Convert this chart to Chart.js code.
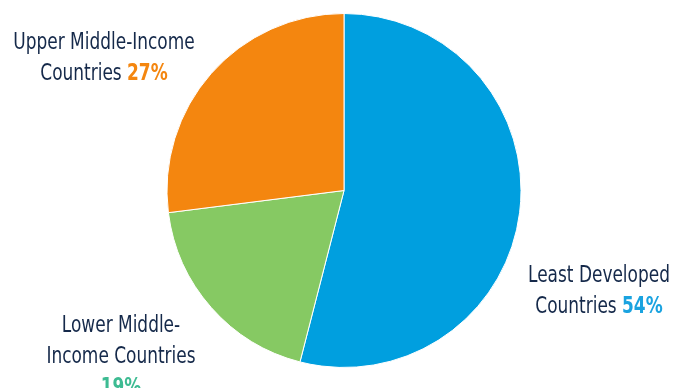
<!DOCTYPE html>
<html>
<head>
<meta charset="utf-8">
<script src="https://cdn.jsdelivr.net/npm/chart.js@4"></script>
<style>
  html, body { margin: 0; padding: 0; background: #ffffff; }
  #wrap { width: 673px; height: 388px; }
</style>
</head>
<body>
<div id="wrap"><canvas id="chartIncome"></canvas></div>
<script>
// 범주 / 값
const categories = ['Least Developed Countries', 'Lower Middle-Income Countries', 'Upper Middle-Income Countries'];
const shares = [54, 19, 27];
const sliceColors = ['#009fdf', '#86c963', '#f4860f'];
const pctColors = ['#1aa3e0', '#3dbb92', '#f4860f'];

// 라벨 줄바꿈 (마지막 줄 뒤에 퍼센트)
const labelLines = [
  ['Least Developed', 'Countries'],
  ['Lower Middle-', 'Income Countries', ''],
  ['Upper Middle-Income', 'Countries']
];
// 라벨 위치 (가운데 x, 첫 줄 baseline y)
const labelPos = [
  { x: 599, y: 282 },
  { x: 121, y: 332 },
  { x: 104, y: 49 }
];

const TEXT = '#15294a';
const FONT = '"DejaVu Sans Condensed", "Noto Sans", sans-serif';
const SIZE = 23;
const SX = 0.82;   // 가로 압축
const LINE_H = 31;

const pieLabels = {
  id: 'pieLabels',
  afterDraw(chart) {
    const ctx = chart.ctx;
    ctx.save();
    ctx.textBaseline = 'alphabetic';
    ctx.textAlign = 'left';
    categories.forEach((cat, i) => {
      const lines = labelLines[i];
      const pos = labelPos[i];
      const pct = shares[i] + '%';
      lines.forEach((line, li) => {
        const y = pos.y + li * LINE_H;
        const last = li === lines.length - 1;
        const txt = last && line !== '' ? line + ' ' : line;
        ctx.font = SIZE + 'px ' + FONT;
        const w1 = ctx.measureText(txt).width;
        let w2 = 0;
        if (last) {
          ctx.font = 'bold ' + SIZE + 'px ' + FONT;
          w2 = ctx.measureText(pct).width;
        }
        const x = pos.x - (w1 + w2) * SX / 2;
        ctx.save();
        ctx.translate(x, y);
        ctx.scale(SX, 1);
        ctx.font = SIZE + 'px ' + FONT;
        ctx.fillStyle = TEXT;
        ctx.fillText(txt, 0, 0);
        if (last) {
          ctx.font = 'bold ' + SIZE + 'px ' + FONT;
          ctx.fillStyle = pctColors[i];
          ctx.fillText(pct, w1, 0);
        }
        ctx.restore();
      });
    });
    ctx.restore();
  }
};

new Chart(document.getElementById('chartIncome'), {
  type: 'pie',
  data: {
    labels: categories,
    datasets: [{
      data: shares,
      backgroundColor: sliceColors,
      borderColor: '#ffffff',
      borderWidth: 1
    }]
  },
  options: {
    responsive: true,
    maintainAspectRatio: false,
    animation: false,
    layout: { padding: { top: 13, bottom: 20, left: 15, right: 0 } },
    plugins: {
      legend: { display: false },
      tooltip: { enabled: false }
    }
  },
  plugins: [pieLabels]
});
</script>
</body>
</html>
